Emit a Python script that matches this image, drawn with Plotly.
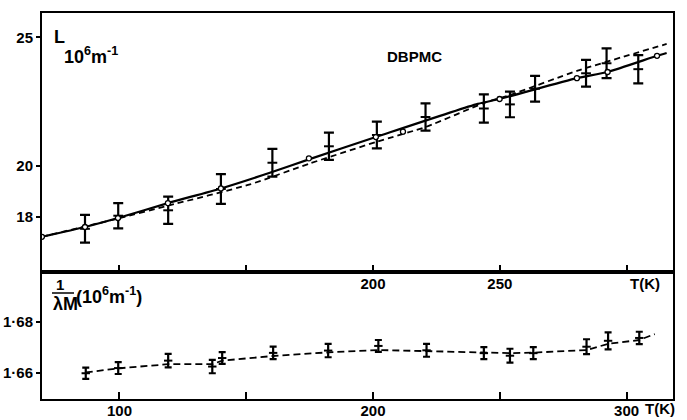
import plotly.graph_objects as go

# ---------------- data ----------------
# Top panel: L (10^6 m^-1) vs T (K)
top_bar_T = [86.4, 99.5, 119.2, 140.0, 160.3, 182.6, 201.5, 220.7, 243.7, 254.0, 263.9, 284.0, 292.1, 304.6]
top_bar_L = [17.55, 18.06, 18.27, 19.10, 20.12, 20.76, 21.20, 21.90, 22.23, 22.39, 23.00, 23.60, 23.99, 23.76]
top_bar_err = [0.54, 0.49, 0.53, 0.58, 0.54, 0.53, 0.52, 0.53, 0.55, 0.50, 0.50, 0.52, 0.58, 0.55]

solid_T = [69.4, 86.4, 99.4, 119.1, 140.0, 159.3, 174.7, 201.1, 241.3, 249.9, 280.4, 292.5, 312.0, 315.8]
solid_L = [17.24, 17.62, 17.97, 18.55, 19.12, 19.73, 20.25, 21.12, 22.41, 22.60, 23.41, 23.65, 24.28, 24.39]

dashed_T = [69.4, 99.4, 119.1, 151.5, 174.7, 201.6, 221.0, 243.9, 254.2, 280.7, 315.8]
dashed_L = [17.24, 17.95, 18.45, 19.28, 20.08, 20.94, 21.52, 22.45, 22.76, 23.70, 24.74]

circle_T = [69.4, 86.4, 99.4, 119.1, 140.0, 174.7, 201.1, 211.8, 249.9, 280.4, 292.5, 312.0]
circle_L = [17.24, 17.62, 17.97, 18.55, 19.12, 20.29, 21.12, 21.33, 22.60, 23.41, 23.65, 24.28]

# Bottom panel: 1/lambda_M (10^6 m^-1) vs T (K)
bot_T = [86.7, 99.5, 119.2, 136.6, 140.5, 160.6, 182.3, 202.1, 221.1, 243.7, 254.0, 263.2, 284.2, 292.7, 305.0]
bot_V = [1.6600, 1.6620, 1.6649, 1.6626, 1.6659, 1.6679, 1.6688, 1.6706, 1.6689, 1.6678, 1.6668, 1.6678, 1.6703, 1.6726, 1.6737]
bot_err = [0.0022, 0.0023, 0.0026, 0.0026, 0.0023, 0.0024, 0.0026, 0.0023, 0.0025, 0.0023, 0.0027, 0.0023, 0.0029, 0.0033, 0.0024]

bot_line_T = [86.7, 99.5, 119.2, 136.6, 140.5, 160.6, 182.3, 202.1, 221.1, 243.7, 254.0, 263.2, 284.2, 292.7, 305.0, 311.1]
bot_line_V = [1.6603, 1.6619, 1.6635, 1.6635, 1.6649, 1.6667, 1.6681, 1.6690, 1.6686, 1.6680, 1.6678, 1.6680, 1.6690, 1.6714, 1.6729, 1.6752]

top_yticks = [18, 20, 25]
top_ytext = ["18", "20", "25"]
bot_yticks = [1.66, 1.68]
bot_ytext = ["1·66", "1·68"]
top_xticks = [200, 250]
top_xtext = ["200", "250"]
bot_xticks = [100, 200, 300]
bot_xtext = ["100", "200", "300"]
x_minor_step = 50

# ---------------- layout helpers ----------------
W, H = 687, 420
FX0, FX1, FY0, FY1 = 42, 673, 13, 399   # frame in page pixels
L_M, R_M, T_M, B_M = FX0, W - FX1, FY0, H - FY1
PW, PH = FX1 - FX0, FY1 - FY0
SPLIT = (FY1 - 272) / PH


def px(x):
    return (x - FX0) / PW


def py(y):
    return (FY1 - y) / PH


FONT = dict(family="Liberation Sans, Arial, sans-serif", size=15, color="black", weight="bold")
UNIT_FONT = dict(FONT, size=18)

fig = go.Figure()

# top panel lines
fig.add_trace(go.Scatter(x=dashed_T, y=dashed_L, mode="lines", xaxis="x", yaxis="y",
                         line=dict(color="black", width=1.8, dash="6px,4px", shape="spline", smoothing=0.6),
                         hoverinfo="skip"))
fig.add_trace(go.Scatter(x=solid_T, y=solid_L, mode="lines", xaxis="x", yaxis="y",
                         line=dict(color="black", width=2.2, shape="spline", smoothing=0.6),
                         hoverinfo="skip"))
fig.add_trace(go.Scatter(x=top_bar_T, y=top_bar_L, mode="markers", xaxis="x", yaxis="y",
                         marker=dict(symbol="line-ew", size=7, line=dict(color="black", width=2), color="black"),
                         error_y=dict(type="data", array=top_bar_err, visible=True, color="black",
                                      thickness=2.2, width=5),
                         hoverinfo="skip"))
fig.add_trace(go.Scatter(x=circle_T, y=circle_L, mode="markers", xaxis="x", yaxis="y",
                         marker=dict(symbol="circle", size=5, color="white", line=dict(color="black", width=1.3)),
                         hoverinfo="skip"))

# bottom panel
fig.add_trace(go.Scatter(x=bot_line_T, y=bot_line_V, mode="lines", xaxis="x2", yaxis="y2",
                         line=dict(color="black", width=1.8, dash="7px,4px"),
                         hoverinfo="skip"))
fig.add_trace(go.Scatter(x=bot_T, y=bot_V, mode="markers", xaxis="x2", yaxis="y2",
                         marker=dict(symbol="line-ew", size=6, line=dict(color="black", width=2), color="black"),
                         error_y=dict(type="data", array=bot_err, visible=True, color="black",
                                      thickness=2.2, width=3.5),
                         hoverinfo="skip"))

xrange = [69.44, 318.3]
axis_common = dict(showline=True, linecolor="black", linewidth=2, mirror=True, automargin=False,
                   showgrid=False, zeroline=False, tickfont=FONT, tickcolor="black")
x_minor = dict(tick0=0, dtick=x_minor_step, ticks="inside", ticklen=7, tickwidth=2,
               tickcolor="black", showgrid=False)

fig.update_layout(
    width=W, height=H,
    margin=dict(l=L_M, r=R_M, t=T_M, b=B_M),
    paper_bgcolor="white", plot_bgcolor="white",
    showlegend=False,
    xaxis=dict(axis_common, domain=[0, 1], anchor="y", range=xrange,
               tickmode="array", tickvals=top_xticks, ticktext=top_xtext,
               ticks="inside", ticklen=7, tickwidth=2, minor=x_minor, ticklabelstandoff=-3),
    yaxis=dict(axis_common, domain=[SPLIT, 1], anchor="x", range=[15.87, 25.945],
               tickmode="array", tickvals=top_yticks, ticktext=top_ytext,
               ticks="outside", ticklen=4, tickwidth=2),
    xaxis2=dict(axis_common, domain=[0, 1], anchor="y2", range=xrange,
                tickmode="array", tickvals=bot_xticks, ticktext=bot_xtext,
                ticks="inside", ticklen=7, tickwidth=2, minor=x_minor, ticklabelstandoff=-3),
    yaxis2=dict(axis_common, domain=[0, SPLIT], anchor="x2", range=[1.6500, 1.6993],
                tickmode="array", tickvals=bot_yticks, ticktext=bot_ytext,
                ticks="outside", ticklen=4, tickwidth=2),
)

ann = [
    dict(text="L", x=px(52), y=py(37), xanchor="left", yanchor="middle", font=UNIT_FONT),
    dict(text="10<sup>6</sup>m<sup>-1</sup>", x=px(62), y=py(55), xanchor="left", yanchor="middle", font=UNIT_FONT),
    dict(text="DBPMC", x=px(414), y=py(57), xanchor="center", yanchor="middle", font=FONT),
    dict(text="T(K)", x=px(628), y=py(283), xanchor="left", yanchor="middle", font=FONT),
    dict(text="T(K)", x=px(643), y=py(408), xanchor="left", yanchor="middle", font=FONT),
    dict(text="1", x=px(60), y=py(284), xanchor="center", yanchor="middle", font=FONT),
    dict(text="λM", x=px(51), y=py(304), xanchor="left", yanchor="middle", font=UNIT_FONT),
    dict(text="(10<sup>6</sup>m<sup>-1</sup>)", x=px(74), y=py(295), xanchor="left", yanchor="middle", font=UNIT_FONT),
]
for a in ann:
    fig.add_annotation(xref="paper", yref="paper", showarrow=False, **a)

fig.add_shape(type="line", xref="paper", yref="paper", x0=px(52), x1=px(74), y0=py(293), y1=py(293),
              line=dict(color="black", width=1.5))

fig.write_html("out.html", config={"displayModeBar": False},
               post_script="document.body.style.margin='0';document.body.style.overflow='hidden';")
